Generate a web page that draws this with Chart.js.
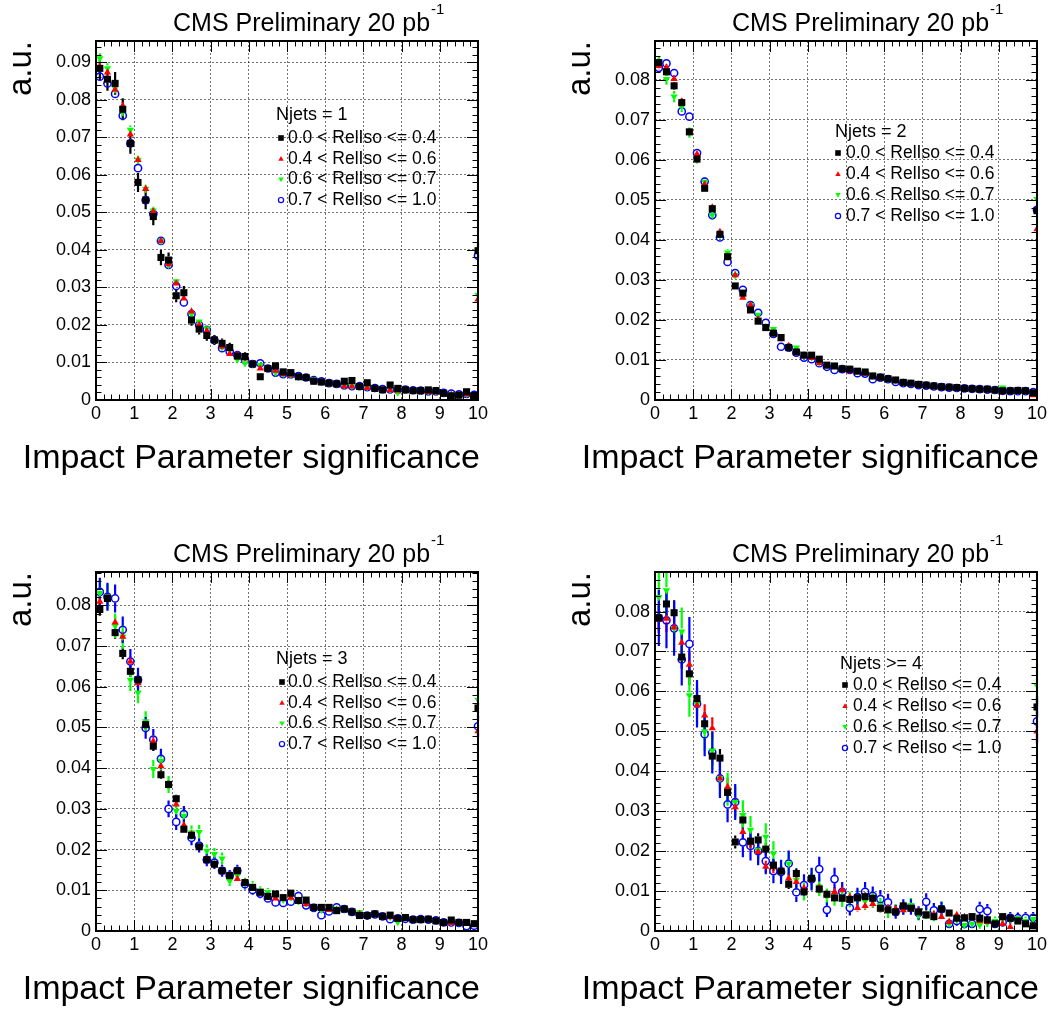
<!DOCTYPE html>
<html>
<head>
<meta charset="utf-8">
<title>Impact Parameter significance</title>
<script src="https://cdn.jsdelivr.net/npm/chart.js@4.4.1/dist/chart.umd.min.js"></script>
<style>
  html, body { margin: 0; padding: 0; background: #fff; width: 1054px; height: 1009px; overflow: hidden; }
  .pad { position: absolute; width: 559px; height: 531px; }
</style>
</head>
<body>
<div class="pad" style="left:0;top:0"><canvas id="pad1"></canvas></div>
<div class="pad" style="left:559px;top:0"><canvas id="pad2"></canvas></div>
<div class="pad" style="left:0;top:531px"><canvas id="pad3"></canvas></div>
<div class="pad" style="left:559px;top:531px"><canvas id="pad4"></canvas></div>

<script>
/* === DATA === */
// bin centres (bin width 0.2), last entry = overflow drawn at x = 10
const binCenters = [0.1, 0.3, 0.5, 0.7, 0.9, 1.1, 1.3, 1.5, 1.7, 1.9,
  2.1, 2.3, 2.5, 2.7, 2.9, 3.1, 3.3, 3.5, 3.7, 3.9,
  4.1, 4.3, 4.5, 4.7, 4.9, 5.1, 5.3, 5.5, 5.7, 5.9,
  6.1, 6.3, 6.5, 6.7, 6.9, 7.1, 7.3, 7.5, 7.7, 7.9,
  8.1, 8.3, 8.5, 8.7, 8.9, 9.1, 9.3, 9.5, 9.7, 9.9, 10.0];

const seriesLabels = ["0.0 < RelIso <= 0.4", "0.4 < RelIso <= 0.6", "0.6 < RelIso <= 0.7", "0.7 < RelIso <= 1.0"];
const panelTitles = ["Njets = 1", "Njets = 2", "Njets = 3", "Njets >= 4"];
const yTickLabels = ["0", "0.01", "0.02", "0.03", "0.04", "0.05", "0.06", "0.07", "0.08", "0.09"];
const xTickLabels = ["0", "1", "2", "3", "4", "5", "6", "7", "8", "9", "10"];
const xAxisTitle = "Impact Parameter significance";
const yAxisTitle = "a.u.";

// Njets = 1
const nj1Black = [0.0884, 0.0855, 0.0844, 0.0775, 0.0684, 0.0580, 0.0533, 0.0489, 0.0380, 0.0373,
  0.0278, 0.0286, 0.0213, 0.0189, 0.0172, 0.0160, 0.0151, 0.0140, 0.0117, 0.0116,
  0.0096, 0.0062, 0.0084, 0.0091, 0.0075, 0.0073, 0.0062, 0.0060, 0.0050, 0.0048,
  0.0045, 0.0043, 0.0050, 0.0052, 0.0036, 0.0046, 0.0031, 0.0027, 0.0040, 0.0031,
  0.0027, 0.0025, 0.0025, 0.0027, 0.0025, 0.0018, 0.0011, 0.0013, 0.0022, 0.0012, 0.0398];
const nj1Red = [0.0889, 0.0873, 0.0828, 0.0784, 0.0708, 0.0640, 0.0563, 0.0502, 0.0424, 0.0362,
  0.0311, 0.0271, 0.0236, 0.0200, 0.0184, 0.0160, 0.0142, 0.0123, 0.0120, 0.0111,
  0.0096, 0.0084, 0.0084, 0.0078, 0.0069, 0.0067, 0.0060, 0.0058, 0.0052, 0.0047,
  0.0043, 0.0041, 0.0036, 0.0036, 0.0034, 0.0032, 0.0029, 0.0026, 0.0026, 0.0025,
  0.0025, 0.0023, 0.0022, 0.0021, 0.0020, 0.0016, 0.0014, 0.0013, 0.0015, 0.0011, 0.0268];
const nj1Green = [0.0911, 0.0884, 0.0831, 0.0769, 0.0720, 0.0640, 0.0563, 0.0505, 0.0424, 0.0360,
  0.0316, 0.0286, 0.0229, 0.0209, 0.0191, 0.0160, 0.0140, 0.0132, 0.0108, 0.0098,
  0.0096, 0.0093, 0.0084, 0.0073, 0.0069, 0.0067, 0.0062, 0.0060, 0.0055, 0.0049,
  0.0044, 0.0043, 0.0038, 0.0037, 0.0036, 0.0034, 0.0031, 0.0028, 0.0027, 0.0020,
  0.0027, 0.0025, 0.0024, 0.0022, 0.0021, 0.0018, 0.0016, 0.0014, 0.0016, 0.0014, 0.0280];
const nj1Blue = [0.0862, 0.0844, 0.0816, 0.0758, 0.0684, 0.0618, 0.0533, 0.0496, 0.0424, 0.0360,
  0.0304, 0.0260, 0.0229, 0.0200, 0.0187, 0.0160, 0.0138, 0.0129, 0.0120, 0.0107,
  0.0096, 0.0098, 0.0084, 0.0073, 0.0069, 0.0068, 0.0064, 0.0060, 0.0053, 0.0050,
  0.0045, 0.0043, 0.0039, 0.0037, 0.0037, 0.0034, 0.0032, 0.0029, 0.0028, 0.0027,
  0.0028, 0.0026, 0.0025, 0.0023, 0.0023, 0.0019, 0.0017, 0.0015, 0.0016, 0.0014, 0.0385];

// Njets = 2
const nj2Black = [0.0843, 0.0820, 0.0785, 0.0743, 0.0670, 0.0602, 0.0529, 0.0478, 0.0414, 0.0358,
  0.0285, 0.0267, 0.0225, 0.0197, 0.0181, 0.0167, 0.0156, 0.0131, 0.0120, 0.0112,
  0.0112, 0.0102, 0.0087, 0.0085, 0.0078, 0.0077, 0.0072, 0.0070, 0.0060, 0.0057,
  0.0053, 0.0050, 0.0044, 0.0042, 0.0039, 0.0037, 0.0035, 0.0033, 0.0032, 0.0031,
  0.0029, 0.0028, 0.0027, 0.0027, 0.0025, 0.0023, 0.0023, 0.0024, 0.0023, 0.0018, 0.0473];
const nj2Red = [0.0835, 0.0831, 0.0802, 0.0746, 0.0670, 0.0614, 0.0539, 0.0481, 0.0420, 0.0358,
  0.0312, 0.0256, 0.0237, 0.0202, 0.0181, 0.0167, 0.0152, 0.0135, 0.0120, 0.0112,
  0.0105, 0.0093, 0.0085, 0.0083, 0.0076, 0.0072, 0.0070, 0.0066, 0.0058, 0.0054,
  0.0051, 0.0048, 0.0042, 0.0040, 0.0037, 0.0035, 0.0033, 0.0031, 0.0030, 0.0029,
  0.0028, 0.0027, 0.0025, 0.0024, 0.0023, 0.0022, 0.0021, 0.0022, 0.0020, 0.0012, 0.0427];
const nj2Green = [0.0845, 0.0802, 0.0758, 0.0733, 0.0668, 0.0603, 0.0545, 0.0462, 0.0414, 0.0368,
  0.0312, 0.0267, 0.0237, 0.0213, 0.0185, 0.0177, 0.0156, 0.0131, 0.0131, 0.0112,
  0.0106, 0.0093, 0.0087, 0.0087, 0.0079, 0.0078, 0.0073, 0.0068, 0.0063, 0.0056,
  0.0052, 0.0049, 0.0043, 0.0042, 0.0040, 0.0037, 0.0035, 0.0034, 0.0033, 0.0031,
  0.0030, 0.0029, 0.0028, 0.0027, 0.0026, 0.0031, 0.0024, 0.0023, 0.0023, 0.0019, 0.0502];
const nj2Blue = [0.0830, 0.0841, 0.0817, 0.0721, 0.0708, 0.0617, 0.0546, 0.0462, 0.0406, 0.0345,
  0.0317, 0.0275, 0.0237, 0.0218, 0.0193, 0.0165, 0.0133, 0.0131, 0.0118, 0.0106,
  0.0102, 0.0092, 0.0083, 0.0075, 0.0077, 0.0075, 0.0067, 0.0066, 0.0052, 0.0056,
  0.0052, 0.0045, 0.0042, 0.0040, 0.0037, 0.0036, 0.0034, 0.0032, 0.0031, 0.0030,
  0.0029, 0.0028, 0.0027, 0.0026, 0.0025, 0.0023, 0.0022, 0.0022, 0.0022, 0.0020, 0.0475];

// Njets = 3
const nj3Black = [0.0790, 0.0817, 0.0733, 0.0682, 0.0638, 0.0617, 0.0507, 0.0454, 0.0384, 0.0360,
  0.0325, 0.0250, 0.0235, 0.0207, 0.0175, 0.0164, 0.0148, 0.0136, 0.0148, 0.0119,
  0.0107, 0.0095, 0.0085, 0.0091, 0.0082, 0.0093, 0.0075, 0.0076, 0.0058, 0.0058,
  0.0058, 0.0050, 0.0054, 0.0047, 0.0038, 0.0038, 0.0042, 0.0036, 0.0039, 0.0031,
  0.0033, 0.0028, 0.0028, 0.0029, 0.0025, 0.0021, 0.0027, 0.0021, 0.0021, 0.0018, 0.0548];
const nj3Red = [0.0809, 0.0815, 0.0758, 0.0723, 0.0662, 0.0609, 0.0507, 0.0466, 0.0405, 0.0360,
  0.0311, 0.0260, 0.0238, 0.0205, 0.0175, 0.0164, 0.0148, 0.0136, 0.0128, 0.0119,
  0.0107, 0.0095, 0.0085, 0.0080, 0.0080, 0.0082, 0.0072, 0.0066, 0.0058, 0.0055,
  0.0052, 0.0052, 0.0052, 0.0047, 0.0042, 0.0037, 0.0040, 0.0035, 0.0034, 0.0031,
  0.0032, 0.0027, 0.0026, 0.0027, 0.0024, 0.0020, 0.0020, 0.0020, 0.0020, 0.0017, 0.0491];
const nj3Green = [0.0830, 0.0821, 0.0750, 0.0723, 0.0617, 0.0586, 0.0515, 0.0398, 0.0418, 0.0360,
  0.0295, 0.0283, 0.0242, 0.0243, 0.0197, 0.0189, 0.0178, 0.0123, 0.0136, 0.0119,
  0.0111, 0.0099, 0.0095, 0.0087, 0.0078, 0.0084, 0.0074, 0.0068, 0.0058, 0.0052,
  0.0055, 0.0055, 0.0054, 0.0049, 0.0046, 0.0039, 0.0042, 0.0037, 0.0034, 0.0022,
  0.0033, 0.0028, 0.0028, 0.0029, 0.0025, 0.0022, 0.0022, 0.0021, 0.0022, 0.0019, 0.0568];
const nj3Blue = [0.0833, 0.0821, 0.0817, 0.0740, 0.0662, 0.0617, 0.0499, 0.0470, 0.0423, 0.0300,
  0.0268, 0.0287, 0.0229, 0.0210, 0.0175, 0.0168, 0.0148, 0.0136, 0.0148, 0.0115,
  0.0101, 0.0092, 0.0080, 0.0070, 0.0069, 0.0072, 0.0086, 0.0063, 0.0057, 0.0039,
  0.0048, 0.0058, 0.0054, 0.0047, 0.0040, 0.0038, 0.0041, 0.0036, 0.0029, 0.0031,
  0.0030, 0.0028, 0.0029, 0.0028, 0.0026, 0.0021, 0.0021, 0.0020, 0.0012, 0.0013, 0.0503];

// Njets >= 4
const nj4Black = [0.0784, 0.0819, 0.0797, 0.0686, 0.0644, 0.0582, 0.0519, 0.0438, 0.0433, 0.0347,
  0.0223, 0.0278, 0.0225, 0.0228, 0.0205, 0.0165, 0.0150, 0.0117, 0.0144, 0.0098,
  0.0132, 0.0105, 0.0092, 0.0083, 0.0082, 0.0079, 0.0083, 0.0086, 0.0082, 0.0057,
  0.0053, 0.0048, 0.0063, 0.0057, 0.0048, 0.0040, 0.0036, 0.0055, 0.0045, 0.0032,
  0.0033, 0.0036, 0.0032, 0.0028, 0.0018, 0.0036, 0.0032, 0.0025, 0.0018, 0.0013, 0.0561];
const nj4Red = [0.0780, 0.0782, 0.0760, 0.0722, 0.0667, 0.0565, 0.0540, 0.0508, 0.0382, 0.0361,
  0.0310, 0.0248, 0.0220, 0.0198, 0.0161, 0.0160, 0.0148, 0.0132, 0.0123, 0.0107,
  0.0128, 0.0107, 0.0092, 0.0098, 0.0102, 0.0085, 0.0058, 0.0063, 0.0068, 0.0055,
  0.0058, 0.0055, 0.0052, 0.0055, 0.0050, 0.0042, 0.0042, 0.0035, 0.0023, 0.0040,
  0.0035, 0.0032, 0.0025, 0.0023, 0.0015, 0.0018, 0.0010, 0.0025, 0.0015, 0.0012, 0.0500];
const nj4Green = [0.0836, 0.0853, 0.0758, 0.0750, 0.0590, 0.0569, 0.0500, 0.0452, 0.0382, 0.0355,
  0.0323, 0.0290, 0.0253, 0.0203, 0.0236, 0.0194, 0.0150, 0.0169, 0.0128, 0.0098,
  0.0132, 0.0111, 0.0086, 0.0083, 0.0080, 0.0079, 0.0083, 0.0075, 0.0080, 0.0065,
  0.0048, 0.0052, 0.0057, 0.0065, 0.0040, 0.0045, 0.0038, 0.0057, 0.0018, 0.0030,
  0.0015, 0.0018, 0.0015, 0.0020, 0.0025, 0.0030, 0.0030, 0.0032, 0.0025, 0.0030, 0.0615];
const nj4Blue = [0.0784, 0.0778, 0.0758, 0.0680, 0.0719, 0.0569, 0.0493, 0.0447, 0.0382, 0.0317,
  0.0323, 0.0222, 0.0213, 0.0200, 0.0175, 0.0150, 0.0148, 0.0169, 0.0097, 0.0115,
  0.0130, 0.0155, 0.0053, 0.0130, 0.0098, 0.0058, 0.0085, 0.0098, 0.0088, 0.0080,
  0.0072, 0.0048, 0.0060, 0.0060, 0.0045, 0.0073, 0.0052, 0.0055, 0.0018, 0.0025,
  0.0018, 0.0018, 0.0055, 0.0050, 0.0018, 0.0022, 0.0033, 0.0032, 0.0033, 0.0033, 0.0525];

// y-axis upper edge of each pad
const yMaxima = [0.0957, 0.0897, 0.0882, 0.0899];

// statistical error size per series (error = scale * sqrt(content))
const nj1ErrScale = [0.0105, 0.0035, 0.0045, 0.0030];
const nj2ErrScale = [0.0035, 0.0030, 0.0050, 0.0030];
const nj3ErrScale = [0.0055, 0.0050, 0.0110, 0.0120];
const nj4ErrScale = [0.0110, 0.0120, 0.0220, 0.0250];

/* === STYLE === */
const FONT = "Arial, 'Liberation Sans', Helvetica, sans-serif";
const markerStyles = [
  { pointStyle: "rect", pointRadius: 5, rotation: 0, backgroundColor: "#000000", borderColor: "#000000", borderWidth: 0, gap: 3.5 },
  { pointStyle: "triangle", pointRadius: 4.2, rotation: 0, backgroundColor: "#ff0000", borderColor: "#ff0000", borderWidth: 0, gap: 3 },
  { pointStyle: "triangle", pointRadius: 4.2, rotation: 180, backgroundColor: "#00ff00", borderColor: "#00ff00", borderWidth: 0, gap: 3 },
  { pointStyle: "circle", pointRadius: 3.6, rotation: 0, backgroundColor: "rgba(0,0,0,0)", borderColor: "#0000ff", borderWidth: 1.5, gap: 4.2 }
];

// legend placement relative to the frame (top-left corner)
const legendPlaces = [
  { hx: 180, hy: 74, mx: 185, tx: 192, ry: 97, step: 20.7 },
  { hx: 180, hy: 91, mx: 183, tx: 191, ry: 112, step: 21 },
  { hx: 180, hy: 87, mx: 186, tx: 192, ry: 110, step: 20.7 },
  { hx: 185, hy: 92, mx: 190, tx: 198, ry: 113, step: 21 }
];

/* === PLUGINS === */
const errorBarPlugin = {
  id: "errorBars",
  beforeDatasetsDraw(chart, args, opts) {
    const { ctx, chartArea, scales } = chart;
    ctx.save();
    ctx.beginPath();
    ctx.rect(chartArea.left - 2, chartArea.top, chartArea.right - chartArea.left + 4, chartArea.bottom - chartArea.top);
    ctx.clip();
    ctx.lineWidth = 2.2;
    chart.data.datasets.forEach((ds, i) => {
      const k = opts.scales[i];
      const gap = markerStyles[i].gap;
      ctx.strokeStyle = markerStyles[i].borderColor;
      ds.data.forEach(p => {
        const err = k * Math.sqrt(p.y);
        const px = scales.x.getPixelForValue(p.x);
        const py = scales.y.getPixelForValue(p.y);
        const yHi = scales.y.getPixelForValue(p.y + err);
        const yLo = scales.y.getPixelForValue(p.y - err);
        ctx.beginPath();
        if (py - yHi > gap) { ctx.moveTo(px, yHi); ctx.lineTo(px, py - gap); }
        if (yLo - py > gap) { ctx.moveTo(px, py + gap); ctx.lineTo(px, yLo); }
        ctx.stroke();
      });
    });
    ctx.restore();
  }
};

const framePlugin = {
  id: "frame",
  afterDatasetsDraw(chart) {
    const { ctx, chartArea: a, scales } = chart;
    ctx.save();
    ctx.strokeStyle = "#000";
    ctx.lineWidth = 1;
    ctx.beginPath();
    // x ticks, bottom and top, every 0.2
    for (let k = 0; k <= 50; k++) {
      const px = Math.round(scales.x.getPixelForValue(k * 0.2)) + 0.5;
      const len = k % 5 === 0 ? 11 : 5.5;
      ctx.moveTo(px, a.bottom); ctx.lineTo(px, a.bottom - len);
      ctx.moveTo(px, a.top); ctx.lineTo(px, a.top + len);
    }
    // y ticks, left and right, every 0.002
    for (let k = 0; k * 0.002 <= scales.y.max; k++) {
      const py = Math.round(scales.y.getPixelForValue(k * 0.002)) + 0.5;
      const len = k % 5 === 0 ? 11 : 5.5;
      ctx.moveTo(a.left, py); ctx.lineTo(a.left + len, py);
      ctx.moveTo(a.right, py); ctx.lineTo(a.right - len, py);
    }
    ctx.stroke();
    ctx.lineWidth = 2;
    ctx.strokeRect(a.left, a.top, a.right - a.left, a.bottom - a.top);
    ctx.restore();
  }
};

function drawMarker(ctx, style, x, y, r) {
  ctx.beginPath();
  if (style.pointStyle === "rect") {
    ctx.rect(x - r, y - r, 2 * r, 2 * r);
    ctx.fillStyle = style.backgroundColor; ctx.fill();
  } else if (style.pointStyle === "triangle") {
    const d = style.rotation ? -1 : 1;
    ctx.moveTo(x, y - d * r);
    ctx.lineTo(x + r * 0.95, y + d * r * 0.7);
    ctx.lineTo(x - r * 0.95, y + d * r * 0.7);
    ctx.closePath();
    ctx.fillStyle = style.backgroundColor; ctx.fill();
  } else {
    ctx.arc(x, y, r, 0, Math.PI * 2);
    ctx.lineWidth = 1.2;
    ctx.strokeStyle = style.borderColor; ctx.stroke();
  }
}

const textPlugin = {
  id: "padText",
  afterDraw(chart, args, opts) {
    const { ctx, chartArea: a } = chart;
    ctx.save();
    ctx.fillStyle = "#000";
    // pad title with superscript
    ctx.textBaseline = "alphabetic";
    ctx.textAlign = "left";
    ctx.font = "25px " + FONT;
    const main = "CMS Preliminary 20 pb";
    const tx = a.left + 77;
    ctx.fillText(main, tx, a.top - 10);
    const w = ctx.measureText(main).width;
    ctx.font = "15px " + FONT;
    ctx.fillText("-1", tx + w + 1, a.top - 27);

    // x-axis title, right aligned to the axis end (may run past the frame on the left)
    ctx.textAlign = "right";
    ctx.font = "34px " + FONT;
    ctx.fillText(xAxisTitle, a.right + 2, a.bottom + 68);

    // legend
    const L = opts.place;
    ctx.textAlign = "left";
    ctx.textBaseline = "middle";
    ctx.font = "18px " + FONT;
    ctx.fillText(opts.header, a.left + L.hx, a.top + L.hy);
    ctx.font = "17.5px " + FONT;
    chart.data.datasets.forEach((ds, i) => {
      const y = a.top + L.ry + i * L.step;
      drawMarker(ctx, markerStyles[i], a.left + L.mx, y, i === 3 ? 2.6 : 2.8);
      ctx.fillStyle = "#000";
      ctx.fillText(ds.label, a.left + L.tx, y);
    });
    ctx.restore();
  }
};

/* === PADS === */
function makePad(canvasId, idx, seriesValues, errScale) {
  const datasets = seriesValues.map((vals, i) => ({
    label: seriesLabels[i],
    data: binCenters.map((x, j) => ({ x: x, y: vals[j] })),
    showLine: false,
    clip: 0,
    pointStyle: markerStyles[i].pointStyle,
    pointRadius: markerStyles[i].pointRadius,
    pointHoverRadius: markerStyles[i].pointRadius,
    rotation: markerStyles[i].rotation,
    backgroundColor: markerStyles[i].backgroundColor,
    borderColor: markerStyles[i].borderColor,
    borderWidth: markerStyles[i].borderWidth
  }));

  const gridStyle = { color: "rgba(0,0,0,0.55)", lineWidth: 1, drawTicks: false };

  return new Chart(document.getElementById(canvasId), {
    type: "scatter",
    data: { datasets: datasets },
    options: {
      responsive: true,
      maintainAspectRatio: false,
      animation: false,
      events: [],
      layout: { padding: { left: 0, top: 41, right: 81, bottom: 0 } },
      plugins: {
        legend: { display: false },
        tooltip: { enabled: false },
        errorBars: { scales: errScale },
        padText: { header: panelTitles[idx], place: legendPlaces[idx] }
      },
      scales: {
        x: {
          type: "linear",
          min: 0,
          max: 10,
          afterFit: s => { s.height = 131; },
          ticks: {
            stepSize: 1, autoSkip: false, maxRotation: 0, padding: 3, color: "#000",
            font: { family: FONT, size: 18 },
            callback: (v) => xTickLabels[Math.round(v)]
          },
          grid: gridStyle,
          border: { display: false, dash: [2, 2] },
          title: { display: false, text: xAxisTitle }
        },
        y: {
          type: "linear",
          min: 0,
          max: yMaxima[idx],
          afterFit: s => { s.width = 96; },
          ticks: {
            stepSize: 0.01, includeBounds: false, padding: 5, color: "#000",
            font: { family: FONT, size: 18 },
            callback: (v) => yTickLabels[Math.round(v * 100)]
          },
          grid: gridStyle,
          border: { display: false, dash: [2, 2] },
          title: {
            display: true, text: yAxisTitle, align: "end", color: "#000",
            font: { family: FONT, size: 33 }, padding: { top: 2, bottom: 0 }
          }
        }
      }
    },
    plugins: [errorBarPlugin, framePlugin, textPlugin]
  });
}

makePad("pad1", 0, [nj1Black, nj1Red, nj1Green, nj1Blue], nj1ErrScale);
makePad("pad2", 1, [nj2Black, nj2Red, nj2Green, nj2Blue], nj2ErrScale);
makePad("pad3", 2, [nj3Black, nj3Red, nj3Green, nj3Blue], nj3ErrScale);
makePad("pad4", 3, [nj4Black, nj4Red, nj4Green, nj4Blue], nj4ErrScale);
</script>
</body>
</html>
